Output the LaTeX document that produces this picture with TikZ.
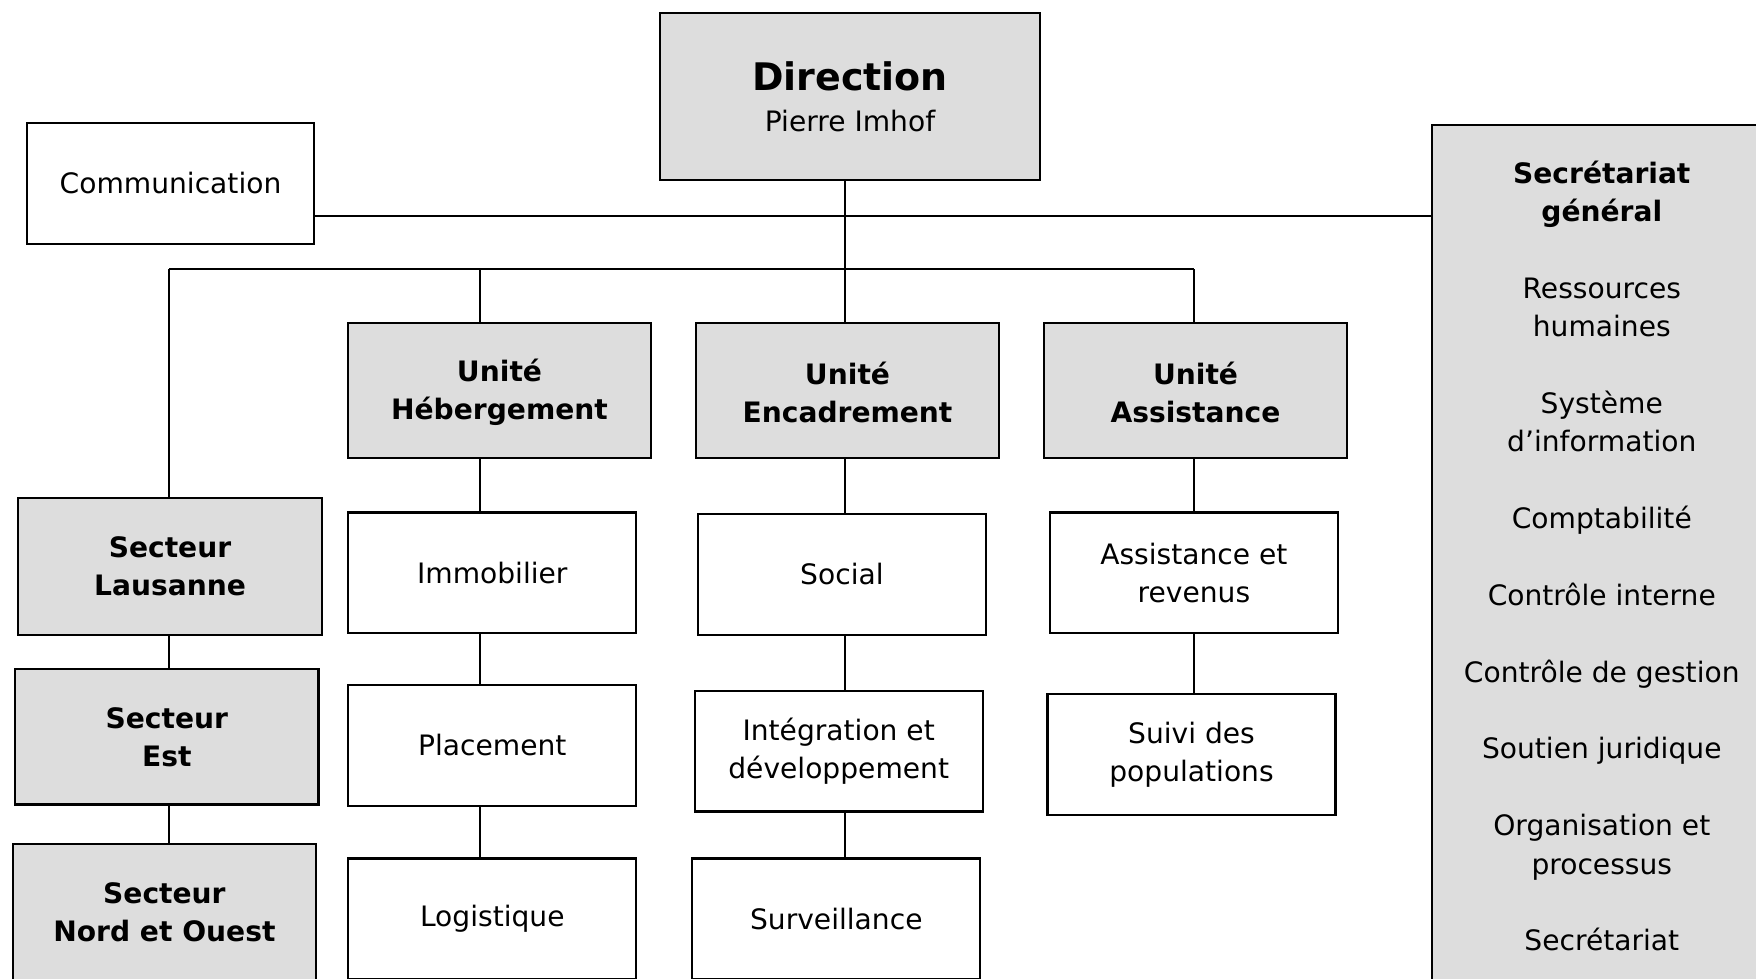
\documentclass[tikz,border=0pt]{standalone}
\usepackage{fontspec}
\setmainfont{DejaVu Sans}
\usepackage{xcolor}
\usetikzlibrary{positioning}
\definecolor{boxgray}{RGB}{221,221,221}

\begin{document}
\begin{tikzpicture}[
    x=0.0125cm, y=-0.0125cm,
    node distance=0.65cm,
    unit/.style={rectangle, draw, line width=0.8pt, fill=boxgray, minimum width=3.79cm, minimum height=1.69cm, align=center, font=\fontsize{10}{13.5}\selectfont\bfseries},
    service/.style={rectangle, draw, line width=0.8pt, fill=white, minimum width=3.6cm, minimum height=1.51cm, align=center, font=\fontsize{10}{13.5}\selectfont},
    panel/.style={rectangle, draw, line width=0.8pt, fill=boxgray},
    link/.style={line width=0.8pt}
]
    \useasboundingbox (0,0) rectangle (1756,978);
    \clip (0,0) rectangle (1756,978);

    % Direction and staff
    \node[unit, minimum width=4.74cm, minimum height=2.09cm, font=\fontsize{10}{13.5}\selectfont] (direction) at (850,96.5)
        {{\fontsize{13.5}{16}\selectfont\bfseries Direction}\\[1pt]Pierre Imhof};
    \node[service, minimum width=3.59cm] (comm) at (170.5,183.5) {Communication};
    \node[panel, anchor=north west, minimum width=4.24cm, minimum height=11cm] (secgen) at (1431,124) {};
    \node[below=0.45cm of secgen.north, inner sep=0pt, align=center, font=\fontsize{10}{13.65}\selectfont] (secgentext)
        {\textbf{Secrétariat}\\\textbf{général}\\[13.65pt]Ressources\\humaines\\[13.65pt]Système\\d’information\\[13.65pt]Comptabilité\\[13.65pt]Contrôle interne\\[13.65pt]Contrôle de gestion\\[13.65pt]Soutien juridique\\[13.65pt]Organisation et\\processus\\[13.65pt]Secrétariat};

    % Units
    \node[unit] (heb) at (499.5,390.5) {\strut Unité\\Hébergement};
    \node[unit] (enc) at (847.5,390.5) {\strut Unité\\Encadrement};
    \node[unit] (ass) at (1195.5,390.5) {\strut Unité\\Assistance};

    % Sectors
    \node[unit, minimum height=1.71cm] (laus) at (170,566.5) {Secteur\\Lausanne};
    \node[unit, below=0.4cm of laus, xshift=-0.04cm] (est) {Secteur\\Est};
    \node[unit, below=0.47cm of est, xshift=-0.03cm, minimum height=1.71cm] (nord) {Secteur\\Nord et Ouest};

    % Services
    \node[service, below=of heb, xshift=-0.09cm] (immo) {Immobilier};
    \node[service, below=0.62cm of immo] (plac) {Placement};
    \node[service, below=0.63cm of plac] (logi) {Logistique};

    \node[service, below=0.67cm of enc, xshift=-0.07cm] (social) {Social};
    \node[service, below=0.67cm of social, xshift=-0.04cm] (integ) {Intégration et\\développement};
    \node[service, below=0.56cm of integ, xshift=-0.03cm] (surv) {Surveillance};

    \node[service, below=of ass, xshift=-0.02cm] (assrev) {Assistance et\\revenus};
    \node[service, below=0.73cm of assrev, xshift=-0.03cm] (suivi) {Suivi des\\populations};

    % Connectors
    \coordinate (staff) at (0,216);
    \coordinate (colS) at (169,269);
    \coordinate (colH) at (480,269);
    \coordinate (colE) at (845,269);
    \coordinate (colA) at (1194,269);

    \draw[link] (comm.east |- staff) -- (secgen.west |- staff);
    \draw[link] (direction.south -| colE) -- (enc.north -| colE);
    \draw[link] (colS) -- (colA);
    \draw[link] (colS) -- (laus.north -| colS);
    \draw[link] (colH) -- (heb.north -| colH);
    \draw[link] (colA) -- (ass.north -| colA);

    \draw[link] (laus.south -| colS) -- (est.north -| colS);
    \draw[link] (est.south -| colS) -- (nord.north -| colS);

    \draw[link] (heb.south -| colH) -- (immo.north -| colH);
    \draw[link] (immo.south -| colH) -- (plac.north -| colH);
    \draw[link] (plac.south -| colH) -- (logi.north -| colH);

    \draw[link] (enc.south -| colE) -- (social.north -| colE);
    \draw[link] (social.south -| colE) -- (integ.north -| colE);
    \draw[link] (integ.south -| colE) -- (surv.north -| colE);

    \draw[link] (ass.south -| colA) -- (assrev.north -| colA);
    \draw[link] (assrev.south -| colA) -- (suivi.north -| colA);
\end{tikzpicture}
\end{document}
